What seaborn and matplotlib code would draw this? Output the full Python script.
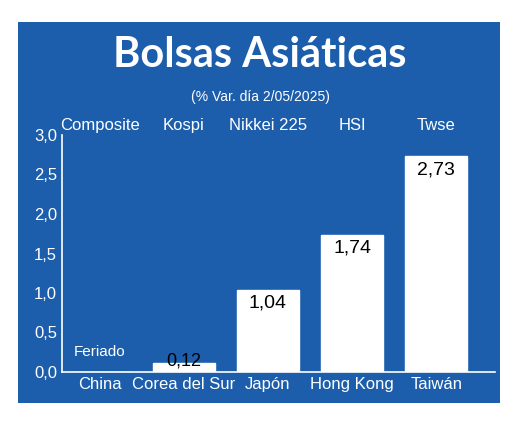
import matplotlib
matplotlib.use("Agg")
import matplotlib.pyplot as plt
import seaborn as sns
import pandas as pd

# Data
paises = ["China", "Corea del Sur", "Japón", "Hong Kong", "Taiwán"]
indices = ["Composite", "Kospi", "Nikkei 225", "HSI", "Twse"]
variacion = [0.0, 0.12, 1.04, 1.74, 2.73]
etiquetas = ["Feriado", "0,12", "1,04", "1,74", "2,73"]

azul = "#1c5eab"
df = pd.DataFrame({"pais": paises, "var": variacion})

sns.set_style("white")
plt.rcParams["font.family"] = ["Liberation Sans Narrow", "Liberation Sans", "DejaVu Sans"]

fig = plt.figure(figsize=(5.2, 4.26), dpi=100)
fig.patch.set_facecolor("white")

# blue panel as a background axes
bg = fig.add_axes([18/520, 1-403/426, 482/520, 381/426], zorder=0)
bg.set_facecolor(azul)
bg.set_xticks([])
bg.set_yticks([])
for s in bg.spines.values():
    s.set_visible(False)

fig.text(0.5, 1-55/426, "Bolsas Asiáticas", color="white", fontsize=30,
         fontweight="bold", ha="center", va="center", family=["Lato", "DejaVu Sans"])
fig.text(0.5, 1-97/426, "(% Var. día 2/05/2025)", color="white", fontsize=10,
         ha="center", va="center")

ax = fig.add_axes([62/520, 1-372/426, 433/520, 237/426], zorder=1)
ax.set_facecolor("none")
sns.barplot(data=df, x="pais", y="var", color="white", width=0.74,
            saturation=1, ax=ax)
ax.set_xlim(-0.45, 4.7)
ax.set_ylim(0, 3.0)
ax.set_yticks([0, 0.5, 1.0, 1.5, 2.0, 2.5, 3.0])
ax.set_yticklabels(["0,0", "0,5", "1,0", "1,5", "2,0", "2,5", "3,0"])
ax.set_xlabel("")
ax.set_ylabel("")
ax.tick_params(colors="white", labelsize=12, length=0)
for s in ["top", "right"]:
    ax.spines[s].set_visible(False)
for s in ["left", "bottom"]:
    ax.spines[s].set_color("white")
    ax.spines[s].set_linewidth(1.2)

for i, (v, t) in enumerate(zip(variacion, etiquetas)):
    if i == 0:
        ax.text(i, 0.25, t, color="white", ha="center", va="center", fontsize=11)
    elif v < 0.3:
        ax.text(i, v + 0.02, t, color="black", ha="center", va="center", fontsize=13)
    else:
        ax.text(i, v - 0.17, t, color="black", ha="center", va="center", fontsize=14)
    ax.text(i, 3.12, indices[i], color="white", ha="center", va="center", fontsize=12)

fig.savefig("out.png", dpi=100)
